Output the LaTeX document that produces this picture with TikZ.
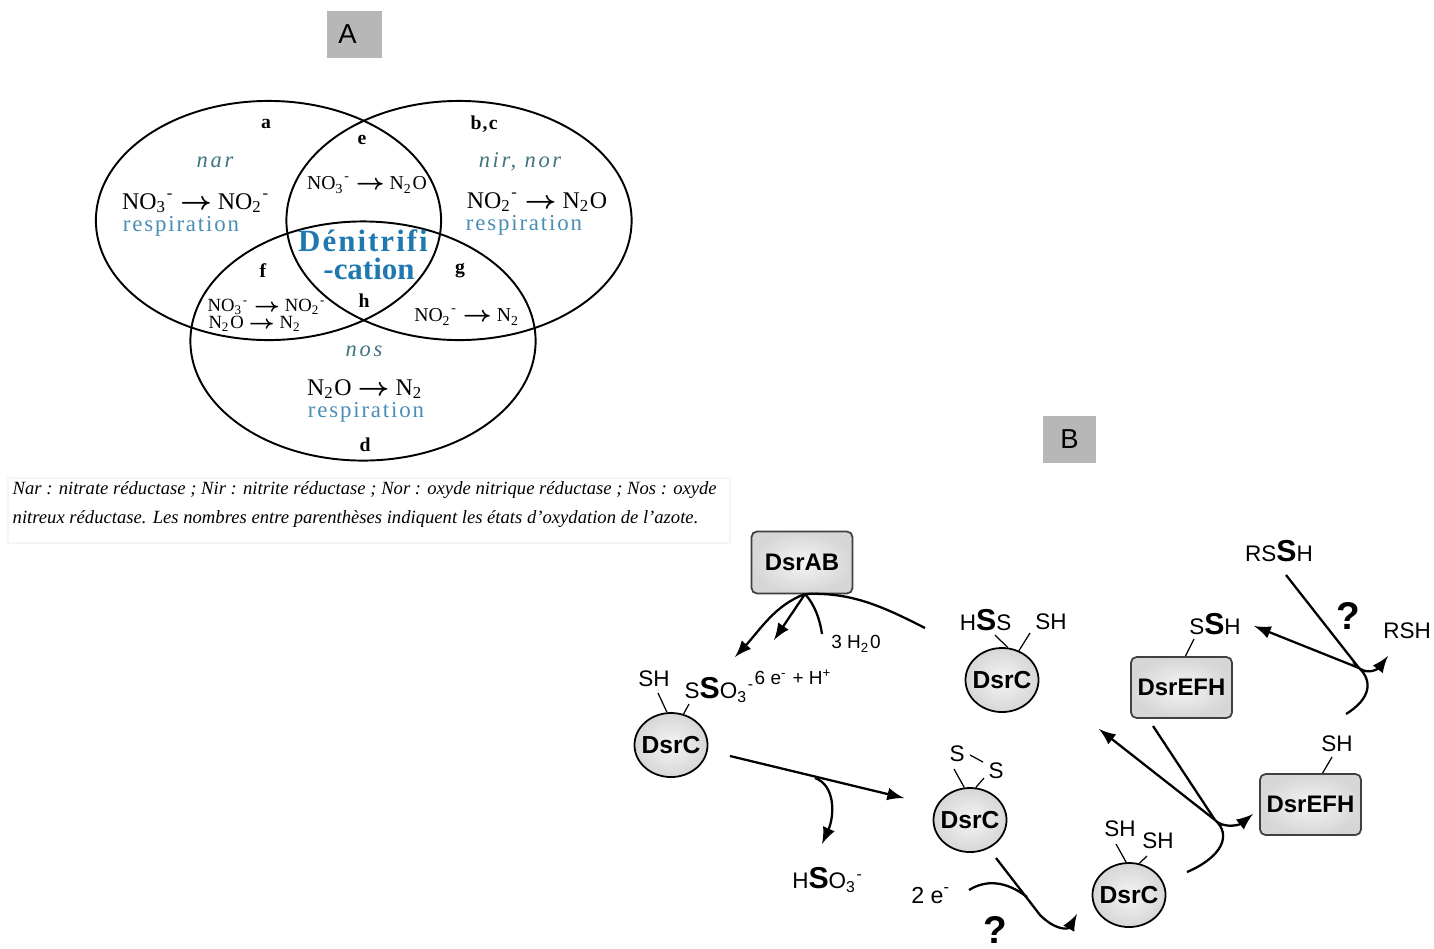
\documentclass[tikz,border=0pt]{standalone}
\usepackage{amsmath}
\usepackage{fontspec}
\usepackage{tikz}
\usetikzlibrary{shapes.geometric}
\setmainfont{Liberation Serif}
\setsansfont{Liberation Sans}
\definecolor{resp}{HTML}{4A8DB5}
\definecolor{enz}{HTML}{3F7480}
\definecolor{deni}{HTML}{1F78B0}
\definecolor{tag}{HTML}{B7B7B7}
\newcommand{\sub}[1]{\textsubscript{#1}}
\newcommand{\sups}[1]{\textsuperscript{#1}}
\newcommand{\bigS}{{\fontsize{8.6}{9}\selectfont\bfseries S}}
\newcommand{\yields}{$\boldsymbol{\rightarrow}$}
\tikzset{
	venn/.style={draw,ellipse,line width=0.55pt,minimum width=3.45cm,minimum height=2.39cm,inner sep=0pt},
	tagbox/.style={fill=tag,font=\sffamily\fontsize{7.8}{9}\selectfont,inner sep=0pt},
	gene/.style={font=\fontsize{5.6}{7}\selectfont\bfseries\addfontfeatures{LetterSpace=6},inner sep=0pt},
	eq/.style={font=\fontsize{6.8}{7}\selectfont,inner sep=0pt},
	eqs/.style={font=\fontsize{5.6}{6}\selectfont,inner sep=0pt},
	respi/.style={font=\fontsize{6.5}{7}\selectfont\addfontfeatures{LetterSpace=8},text=resp,inner sep=0pt},
	enzy/.style={font=\fontsize{6.4}{7}\selectfont\itshape\addfontfeatures{LetterSpace=12},text=enz,inner sep=0pt},
	note/.style={font=\fontsize{5.3}{6}\selectfont\itshape,inner sep=0pt,anchor=west},
	dsrc/.style={draw,ellipse,line width=0.5pt,minimum width=0.73cm,minimum height=0.64cm,inner sep=-1.5pt,inner color=gray!8,outer color=gray!32,font=\sffamily\fontsize{7}{8}\selectfont\bfseries},
	dsrbox/.style={draw=black!75,rounded corners=1.6pt,line width=0.5pt,minimum width=1.01cm,minimum height=0.62cm,inner sep=0pt,inner color=gray!8,outer color=gray!32,font=\sffamily\fontsize{6.8}{8}\selectfont\bfseries},
	chem/.style={font=\sffamily\fontsize{6.4}{7}\selectfont,inner sep=0pt},
	small/.style={font=\sffamily\fontsize{5.4}{6}\selectfont,inner sep=0pt},
	quest/.style={font=\sffamily\fontsize{11}{12}\selectfont\bfseries,inner sep=0pt},
	bond/.style={line width=0.35pt},
	flow/.style={line width=0.65pt},
	flowtip/.style={line width=0.65pt,-latex}
}
\begin{document}
\begin{tikzpicture}[x=0.01cm,y=-0.01cm]
	\useasboundingbox (0,0) rectangle (1434,948);
	\node[tagbox,minimum width=0.55cm,minimum height=0.47cm] (tagA) at (354.5,34.5) {\hspace*{-0.14cm}\raisebox{-0.04cm}{A}};
	\node[tagbox,minimum width=0.53cm,minimum height=0.47cm] (tagB) at (1069.5,439.5) {\raisebox{-0.03cm}{B}};
	\node[venn] (vennnar) at (268.5,220.5) {};
	\node[venn] (vennnir) at (459,220.5) {};
	\node[venn] (vennnos) at (363,341) {};
	\node[gene] (la) at (266,124) {a};
	\node[gene] (lbc) at (484,124) {b,c};
	\node[gene] (le) at (362,140) {e};
	\node[gene] (lf) at (263,271) {f};
	\node[gene] (lg) at (460,271) {g};
	\node[gene] (lh) at (364,301) {h};
	\node[gene] (ld) at (365,445) {d};
	\node[enzy] (nar) at (215,162) {nar};
	\node[enzy] (nir) at (520,162) {nir, nor};
	\node[enzy] (nos) at (364,351) {nos};
	\node[eq] (eqnar) at (196,203) {NO\sub{3}\sups{-} \yields{} NO\sub{2}\sups{-}};
	\node[eq] (eqnir) at (537,202) {NO\sub{2}\sups{-} \yields{} N\sub{2}O};
	\node[eq] (eqnos) at (365,389) {N\sub{2}O \yields{} N\sub{2}};
	\node[respi] (respnar) at (181,226) {respiration};
	\node[respi] (respnir) at (524,225) {respiration};
	\node[respi] (respnos) at (366,412) {respiration};
	\node[eqs] (eqe) at (367,185) {NO\sub{3}\sups{-} \yields{} N\sub{2}O};
	\node[eqs,font=\fontsize{5.3}{6}\selectfont] (eqf1) at (267,307) {NO\sub{3}\sups{-} \yields{} NO\sub{2}\sups{-}};
	\node[eqs,font=\fontsize{5.3}{6}\selectfont] (eqf2) at (255,324) {N\sub{2}O \yields{} N\sub{2}};
	\node[eqs] (eqg) at (467,317) {NO\sub{2}\sups{-} \yields{} N\sub{2}};
	\node[font=\fontsize{8.8}{10}\selectfont\bfseries\addfontfeatures{LetterSpace=6.5},text=deni,inner sep=0pt] (deni1) at (363,241) {Dénitrifi};
	\node[font=\fontsize{8.8}{10}\selectfont\bfseries,text=deni,inner sep=0pt] (deni2) at (369,269) {-cation};
	\draw[black!4,line width=0.3pt] (8,478) rectangle (730,543);
	\node[note] (cap1) at (12,490) {Nar : nitrate réductase ; Nir : nitrite réductase ; Nor : oxyde nitrique réductase ; Nos : oxyde};
	\node[note] (cap2) at (12,519) {nitreux réductase. Les nombres entre parenthèses indiquent les états d’oxydation de l’azote.};
	\node[dsrbox] (dsrab) at (802,562.5) {DsrAB};
	\node[dsrc] (csso) at (671,745) {DsrC};
	\node[dsrc] (chss) at (1002,680) {DsrC};
	\node[dsrc] (css) at (970,820) {DsrC};
	\node[dsrc] (csh) at (1129,895) {DsrC};
	\node[dsrbox,minimum height=0.61cm] (efhs) at (1181.5,687.5) {DsrEFH};
	\node[dsrbox,minimum height=0.61cm] (efh) at (1310.5,804.5) {DsrEFH};
	\node[chem] (sh1) at (654,679) {SH};
	\node[chem,anchor=west] (sso) at (684,690) {S\bigS O\sub{3}\sups{-}};
	\node[small,anchor=west] (elec) at (754,677) {6 e\sups{-} + H\sups{+}};
	\node[small] (water) at (856,644) {3 H\sub{2}0};
	\node[chem,anchor=east] (hss) at (1012,620) {H\bigS S};
	\node[chem] (sh2) at (1051,622) {SH};
	\node[chem] (s1) at (957,754) {S};
	\node[chem] (s2) at (996,771) {S};
	\node[chem] (hso) at (828,880) {H\bigS O\sub{3}\sups{-}};
	\node[small,font=\sffamily\fontsize{6.6}{7}\selectfont] (twoe) at (931,895) {2 e\sups{-}};
	\node[quest] (q1) at (995,930) {?};
	\node[chem] (sh3) at (1120,829) {SH};
	\node[chem] (sh4) at (1158,841) {SH};
	\node[chem] (ssh) at (1215,624) {S\bigS H};
	\node[chem] (sh5) at (1337,744) {SH};
	\node[chem] (rssh) at (1279,551) {RS\bigS H};
	\node[chem] (rsh) at (1407,631) {RSH};
	\node[quest] (q2) at (1348,616) {?};
	\coordinate (b1) at (658,693);
	\coordinate (b2) at (689,704);
	\coordinate (b3) at (995,635);
	\coordinate (b4) at (1030,633);
	\coordinate (b5) at (954,769);
	\coordinate (b6) at (984,778);
	\coordinate (b7) at (970,755);
	\coordinate (b8) at (983,762);
	\coordinate (b9) at (1116,844);
	\coordinate (b10) at (1147,856);
	\coordinate (b11) at (1194,639);
	\coordinate (b12) at (1332,757);
	\draw[bond] (b1) -- (csso.97);
	\draw[bond] (b2) -- (csso.68);
	\draw[bond] (b3) -- (chss.80);
	\draw[bond] (b4) -- (chss.60);
	\draw[bond] (b5) -- (css.100);
	\draw[bond] (b6) -- (css.80);
	\draw[bond] (b7) -- (b8);
	\draw[bond] (b9) -- (csh.95);
	\draw[bond] (b10) -- (csh.72);
	\draw[bond] (b11) -- (efhs.83);
	\draw[bond] (b12) -- (efh.69);
	\coordinate (abfoot) at (805,594);
	\coordinate (endsso) at (735,657);
	\coordinate (endelec) at (774,640);
	\coordinate (endwater) at (822,634);
	\coordinate (starthss) at (925,628);
	\draw[flowtip] (abfoot) .. controls (775,605) and (760,630) .. (endsso);
	\draw[flowtip] (abfoot) -- (endelec);
	\draw[flow] (abfoot) .. controls (815,605) and (820,620) .. (endwater);
	\draw[flow] (starthss) .. controls (880,605) and (850,592) .. (abfoot);
	\coordinate (startc) at (730,756);
	\coordinate (endc) at (904,798);
	\coordinate (branch) at (815,778);
	\coordinate (endhso) at (822,844);
	\draw[flowtip] (startc) -- (endc);
	\draw[flowtip] (branch) .. controls (835,785) and (835,815) .. (endhso);
	\coordinate (starts) at (996,858);
	\coordinate (endcsh) at (1077,914);
	\coordinate (startt) at (969,890);
	\coordinate (joins) at (1027,897);
	\draw[flowtip] (starts) -- (1040,915) .. controls (1055,930) and (1068,930) .. (endcsh);
	\draw[flow] (startt) .. controls (985,880) and (1005,880) .. (joins);
	\coordinate (startcsh) at (1187,872);
	\coordinate (hook1) at (1215,820);
	\coordinate (endefh) at (1253,814);
	\coordinate (startefh) at (1153,726);
	\coordinate (endefhs) at (1099,729);
	\draw[flowtip] (startcsh) .. controls (1222,857) and (1232,835) .. (hook1) .. controls (1222,828) and (1238,826) .. (endefh);
	\draw[flow] (startefh) -- (hook1);
	\draw[flowtip] (hook1) -- (endefhs);
	\coordinate (starttop) at (1346,714);
	\coordinate (hook2) at (1359,668);
	\coordinate (endrsh) at (1388,656);
	\coordinate (startrssh) at (1286,575);
	\coordinate (endssh) at (1254,626);
	\draw[flowtip] (starttop) .. controls (1372,698) and (1372,680) .. (hook2) .. controls (1368,675) and (1378,669) .. (endrsh);
	\draw[flow] (startrssh) -- (hook2);
	\draw[flowtip] (hook2) -- (endssh);
\end{tikzpicture}
\end{document}
